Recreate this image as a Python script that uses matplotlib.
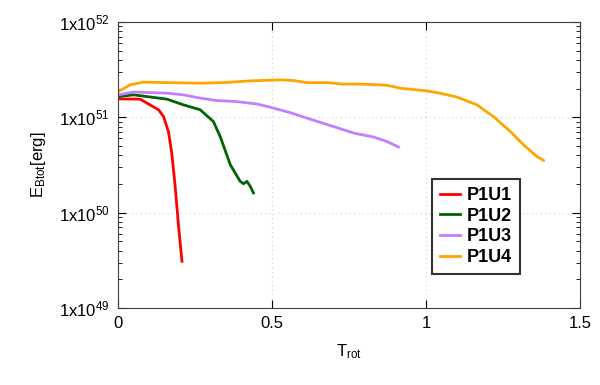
import numpy as np
import matplotlib
matplotlib.use("Agg")
import matplotlib.pyplot as plt
from matplotlib.ticker import FixedLocator, LogLocator, NullFormatter

plt.rcParams['font.family'] = ['Liberation Sans', 'DejaVu Sans']
plt.rcParams['mathtext.fontset'] = 'custom'
plt.rcParams['mathtext.rm'] = 'Liberation Sans'
plt.rcParams['mathtext.it'] = 'Liberation Sans'

# energies in units of 1e51 erg
t_u1 = [0.0, 0.071, 0.131, 0.147, 0.163, 0.174, 0.185, 0.196, 0.207]
e_u1 = [1.56, 1.55, 1.20, 1.02, 0.71, 0.42, 0.188, 0.0718, 0.0309]

t_u2 = [0.0, 0.050, 0.158, 0.212, 0.266, 0.309, 0.331, 0.364, 0.396, 0.407, 0.418, 0.429, 0.439]
e_u2 = [1.65, 1.72, 1.55, 1.35, 1.20, 0.904, 0.630, 0.318, 0.213, 0.201, 0.213, 0.188, 0.161]

t_u3 = [0.0, 0.050, 0.158, 0.212, 0.266, 0.320, 0.385, 0.450, 0.504, 0.558, 0.613, 0.699,
        0.764, 0.829, 0.872, 0.910]
e_u3 = [1.72, 1.84, 1.79, 1.72, 1.59, 1.50, 1.46, 1.38, 1.25, 1.12, 0.98, 0.80,
        0.684, 0.621, 0.558, 0.488]

t_u4 = [0.0, 0.039, 0.082, 0.158, 0.266, 0.342, 0.429, 0.526, 0.569, 0.613, 0.678, 0.731,
        0.786, 0.872, 0.916, 1.002, 1.045, 1.100, 1.165, 1.218, 1.273, 1.316, 1.359, 1.381]
e_u4 = [1.86, 2.19, 2.34, 2.31, 2.28, 2.31, 2.41, 2.47, 2.43, 2.31, 2.31, 2.23,
        2.23, 2.17, 2.02, 1.89, 1.79, 1.63, 1.35, 1.02, 0.71, 0.515, 0.389, 0.353]

labels = ["P1U1", "P1U2", "P1U3", "P1U4"]
colors = ["#ff0000", "#006400", "#c080ff", "#ffa500"]

fig = plt.figure(figsize=(6, 3.85), dpi=100)
ax = fig.add_axes([0.197, 0.2, 0.77, 0.743])

for t, e, lab, c in zip([t_u1, t_u2, t_u3, t_u4], [e_u1, e_u2, e_u3, e_u4], labels, colors):
    ax.plot(t, np.array(e) * 1e51, color=c, lw=2, label=lab)

ax.set_yscale("log")
ax.set_xlim(0, 1.5)
ax.set_ylim(1e49, 1e52)
ax.xaxis.set_major_locator(FixedLocator([0, 0.5, 1, 1.5]))
ax.set_xticklabels(["0", "0.5", "1", "1.5"])
ax.yaxis.set_major_locator(FixedLocator([1e49, 1e50, 1e51, 1e52]))
ax.set_yticklabels([r"1x10$^{49}$", r"1x10$^{50}$", r"1x10$^{51}$", r"1x10$^{52}$"])
ax.yaxis.set_minor_locator(LogLocator(base=10, subs=np.arange(2, 10)))
ax.yaxis.set_minor_formatter(NullFormatter())

ax.tick_params(direction="in", which="both", top=True, right=True, labelsize=12, pad=6)
ax.tick_params(which="major", length=6)
ax.tick_params(which="minor", length=3)
ax.grid(True, which="major", color="#d0d0d0", linestyle=(0, (1, 3)), lw=0.8)
for s in ax.spines.values():
    s.set_color("#404040")

ax.set_xlabel(r"T$_{\rm rot}$", fontsize=12, labelpad=8)
ax.set_ylabel(r"E$_{\rm Btot}$[erg]", fontsize=12, labelpad=8)

leg = ax.legend(loc="upper left", bbox_to_anchor=(0.68, 0.451), frameon=True, fancybox=False,
                edgecolor="black", handlelength=1.1, prop={"weight": "bold", "size": 13},
                borderpad=0.45, labelspacing=0.2, handletextpad=0.35, borderaxespad=0)
leg.get_frame().set_linewidth(1.5)

fig.savefig("out.png", dpi=100)
